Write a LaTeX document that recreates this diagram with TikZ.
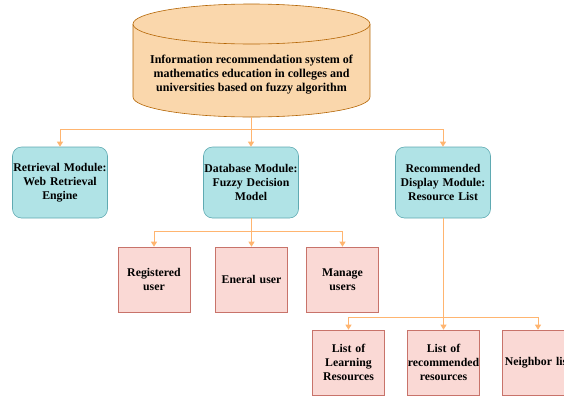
\documentclass[tikz,border=0pt]{standalone}
\usepackage{fontspec}
\setmainfont{Liberation Serif}
\usepackage{tikz}
\usetikzlibrary{arrows.meta, positioning}

\definecolor{cylfill}{HTML}{FAD7AC}
\definecolor{cyldraw}{HTML}{B46504}
\definecolor{modfill}{HTML}{B0E3E6}
\definecolor{moddraw}{HTML}{5FAAB2}
\definecolor{leaffill}{HTML}{FAD9D5}
\definecolor{leafdraw}{HTML}{C8736A}
\definecolor{linkcol}{HTML}{FFB570}

\begin{document}
\begin{tikzpicture}[
    x=1pt, y=-1pt,
    txt/.style={font=\fontsize{11.8}{14}\selectfont\bfseries, align=center, text=black},
    system/.style={txt, font=\fontsize{12}{13.6}\selectfont\bfseries,
        minimum width=237pt, minimum height=85pt, inner sep=0pt},
    module/.style={txt, rectangle, rounded corners=9pt, draw=moddraw, fill=modfill,
        minimum width=95pt, minimum height=71pt, text width=95pt, inner sep=0pt, line width=0.6pt},
    leaf/.style={txt, rectangle, draw=leafdraw, fill=leaffill,
        minimum width=72pt, minimum height=65pt, text width=72pt, inner sep=0pt, line width=0.6pt},
    cyl/.style={draw=cyldraw, fill=cylfill, line width=0.6pt},
    link/.style={draw=linkcol, line width=1pt},
    arrow/.style={link, -{Triangle[length=5pt, width=6pt]}}
]
\useasboundingbox (0,0) rectangle (564,397);
\clip (0,0) rectangle (564,397);

% Top: the whole system (drum drawn by hand)
\fill[cylfill] (133,24) rectangle (370,97);
\fill[cylfill] (251.5,97) ellipse [x radius=118.5pt, y radius=20pt];
\draw[cyldraw, line width=0.6pt] (133,24) -- (133,97)
    arc [start angle=180, end angle=360, x radius=118.5pt, y radius=20pt] -- (370,24);
\draw[cyl] (251.5,24) ellipse [x radius=118.5pt, y radius=20pt];
\node[system] (sys) at (251.5,74.5) {Information recommendation system of\\mathematics education in colleges and\\universities based on fuzzy algorithm};

% Modules
\node[module] (ret) at (60,182.5) {Retrieval Module:\\Web Retrieval\\Engine};
\node[module] (db) at (251,182.5) {Database Module:\\Fuzzy Decision\\Model};
\node[module] (disp) at (443,182.5) {Recommended\\Display Module:\\Resource List};

% Users under the database module
\node[leaf] (reg) at (154,279.5) {Registered\\user};
\node[leaf] (gen) at (251.5,279.5) {Eneral user};
\node[leaf] (man) at (342.5,279.5) {Manage\\users};

% Lists under the display module
\node[leaf] (learn) at (348.5,362.5) {List of\\Learning\\Resources};
\node[leaf] (rec) at (443.5,362.5) {List of\\recommended\\resources};
\node[leaf] (nb) at (538,362.5) {Neighbor list};

% Connectors
\coordinate (bus1) at (251,129);
\draw[link] (sys.south) -- (sys.south |- bus1);
\draw[arrow] (bus1) -| (ret.north);
\draw[arrow] (bus1) -- (db.north);
\draw[arrow] (bus1) -| (disp.north);

\coordinate (bus2) at (251.5,231);
\draw[link] (db.south) -- (db.south |- bus2);
\draw[arrow] (bus2) -| (reg.north);
\draw[arrow] (bus2) -- (gen.north);
\draw[arrow] (bus2) -| (man.north);

\coordinate (bus3) at (443.5,317);
\draw[link] (disp.south) -- (disp.south |- bus3);
\draw[arrow] (bus3) -| (learn.north);
\draw[arrow] (bus3) -- (rec.north);
\draw[arrow] (bus3) -| (nb.north);

\end{tikzpicture}
\end{document}
